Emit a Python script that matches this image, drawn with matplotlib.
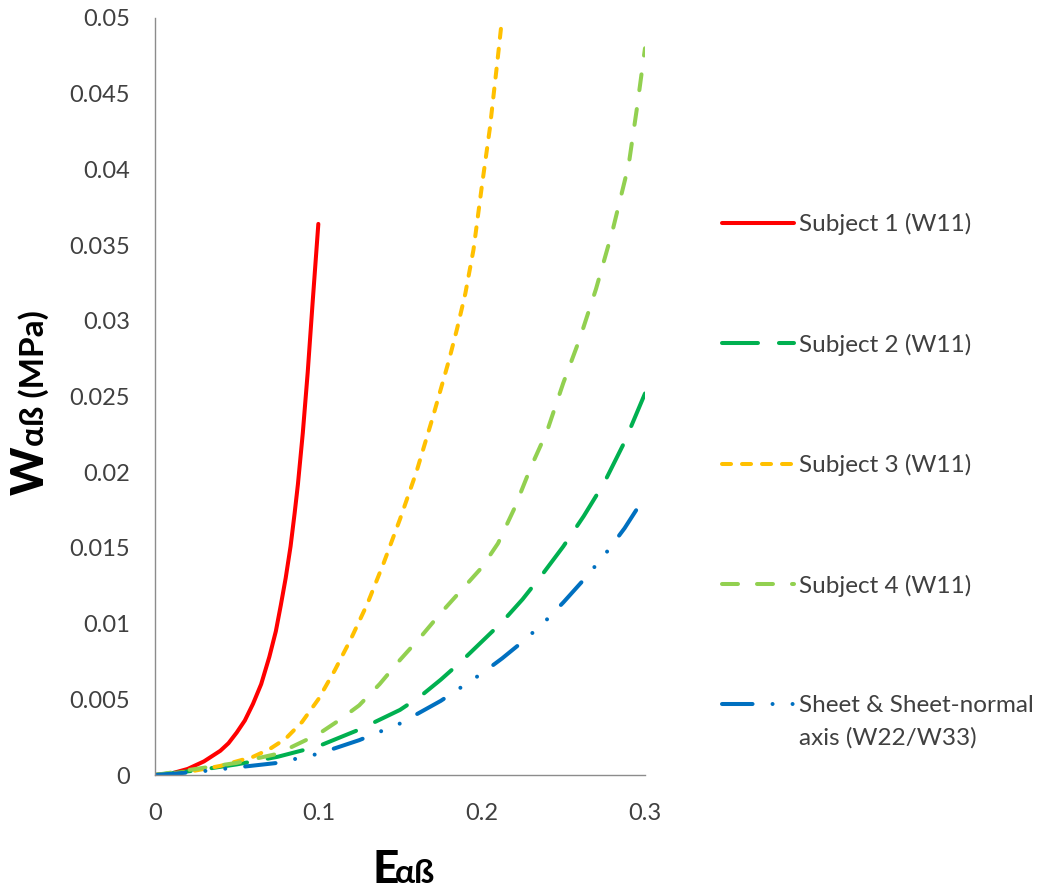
import numpy as np
import matplotlib
matplotlib.use("Agg")
import matplotlib.pyplot as plt
from matplotlib.legend_handler import HandlerLine2D

plt.rcParams['font.family'] = ['Lato', 'DejaVu Sans']
plt.rcParams['lines.scale_dashes'] = False

# strain values (E) and strain energy (W, MPa)
e1 = [0, 0.01, 0.02, 0.03, 0.04, 0.045, 0.05, 0.055, 0.06, 0.065, 0.07, 0.074, 0.077, 0.08,
      0.083, 0.0855, 0.0875, 0.0905, 0.0935, 0.0965, 0.1]
w1 = [0, 0.0001, 0.0004, 0.0009, 0.0016, 0.0021, 0.0028, 0.0036, 0.0047, 0.0060, 0.0078, 0.0095,
      0.0112, 0.0130, 0.0151, 0.0173, 0.0192, 0.0226, 0.0266, 0.0312, 0.0364]

e2 = [0, 0.025, 0.05, 0.075, 0.1, 0.125, 0.15, 0.1625, 0.175, 0.1875, 0.2, 0.2125, 0.225, 0.2375,
      0.25, 0.2625, 0.275, 0.2875, 0.3]
w2 = [0, 0.0003, 0.0007, 0.0012, 0.0019, 0.0030, 0.0043, 0.0052, 0.0063, 0.0075, 0.0088, 0.0101,
      0.0116, 0.0133, 0.0151, 0.0171, 0.0193, 0.0220, 0.0252]

e3 = [0, 0.02, 0.04, 0.06, 0.07, 0.08, 0.09, 0.1, 0.11, 0.12, 0.13, 0.14, 0.15, 0.16, 0.17, 0.18,
      0.185, 0.19, 0.195, 0.2, 0.205, 0.21, 0.2125]
w3 = [0, 0.0002, 0.0006, 0.0012, 0.0017, 0.0024, 0.0035, 0.0050, 0.0069, 0.0090, 0.0113, 0.0140,
      0.0169, 0.0200, 0.0236, 0.0274, 0.0295, 0.0318, 0.0347, 0.0388, 0.0427, 0.0475, 0.0500]

e4 = [0, 0.025, 0.05, 0.075, 0.1, 0.1125, 0.125, 0.1375, 0.15, 0.1625, 0.175, 0.1875, 0.2, 0.21,
      0.22, 0.23, 0.24, 0.25, 0.26, 0.27, 0.28, 0.29, 0.295, 0.3]
w4 = [0, 0.0004, 0.0008, 0.0014, 0.0027, 0.0036, 0.0046, 0.0060, 0.0076, 0.0091, 0.0107, 0.0122,
      0.0137, 0.0153, 0.0176, 0.0203, 0.0227, 0.0259, 0.0288, 0.0321, 0.0359, 0.0403, 0.0440, 0.0480]

e5 = [0, 0.025, 0.05, 0.075, 0.1, 0.125, 0.15, 0.175, 0.1875, 0.2, 0.2125, 0.225, 0.2375, 0.25,
      0.2625, 0.275, 0.2875, 0.3]
w5 = [0, 0.0002, 0.0005, 0.0008, 0.0014, 0.0023, 0.0034, 0.0049, 0.0058, 0.0067, 0.0077, 0.0088,
      0.0100, 0.0114, 0.0129, 0.0145, 0.0163, 0.0184]

labels = ["Subject 1 (W11)", "Subject 2 (W11)", "Subject 3 (W11)", "Subject 4 (W11)",
          "Sheet & Sheet-normal\naxis (W22/W33)"]

xticks = [0, 0.1, 0.2, 0.3]
xticklabels = ["0", "0.1", "0.2", "0.3"]
yticks = [0, 0.005, 0.01, 0.015, 0.02, 0.025, 0.03, 0.035, 0.04, 0.045, 0.05]
yticklabels = ["0", "0.005", "0.01", "0.015", "0.02", "0.025", "0.03", "0.035", "0.04", "0.045", "0.05"]

txt = '#404040'
lw = 2.9


class FirstLineHandler(HandlerLine2D):
    # put the legend line next to the first line of a two-line label
    def __init__(self, shift, **kw):
        super().__init__(**kw)
        self.shift = shift

    def create_artists(self, legend, orig_handle, xdescent, ydescent, width, height, fontsize, trans):
        arts = super().create_artists(legend, orig_handle, xdescent, ydescent, width, height, fontsize, trans)
        for a in arts:
            a.set_ydata(np.asarray(a.get_ydata()) + self.shift)
        return arts


fig = plt.figure(figsize=(10.45, 8.92), dpi=100)
ax = fig.add_axes([155/1045, 1 - 775/892, 490/1045, (775 - 18)/892])

ax.plot(e1, w1, color='#FF0000', lw=lw, solid_capstyle='round', solid_joinstyle='round', label=labels[0])
ax.plot(e2, w2, color='#00B050', lw=lw, dashes=(25.9, 15.1), dash_capstyle='round', label=labels[1])
ax.plot(e3, w3, color='#FFC000', lw=lw, dashes=(6.5, 7.9), dash_capstyle='round', label=labels[2])
ax.plot(e4, w4, color='#92D050', lw=lw, dashes=(11.5, 13.7), dash_capstyle='round', label=labels[3])
sheet, = ax.plot(e5, w5, color='#0070C0', lw=lw, dashes=(22, 14.4, 0.01, 14.4, 0.01, 14.4),
                 dash_capstyle='round', label=labels[4])

ax.set_xlim(0, 0.3)
ax.set_ylim(0, 0.05)
ax.set_xticks(xticks)
ax.set_xticklabels(xticklabels)
ax.set_yticks(yticks)
ax.set_yticklabels(yticklabels)
ax.tick_params(axis='both', length=0, labelsize=17, labelcolor=txt)
ax.tick_params(axis='x', pad=20)
ax.tick_params(axis='y', pad=18)
for s in ['top', 'right']:
    ax.spines[s].set_visible(False)
for s in ['left', 'bottom']:
    ax.spines[s].set_color('#8c8c8c')
    ax.spines[s].set_linewidth(1.0)

leg = ax.legend(loc='upper left', bbox_to_anchor=(722/1045, 1 - 213/892), bbox_transform=fig.transFigure,
                frameon=False, fontsize=17.5, handlelength=2.95, handletextpad=0.2,
                labelspacing=4.05, borderpad=0, borderaxespad=0,
                handler_map={sheet: FirstLineHandler(12.5)})
for t in leg.get_texts():
    t.set_color(txt)
    t.set_linespacing(1.6)

# axis titles built from pieces of different sizes
fig.text(44/1045, 1 - 495/892, "W", rotation=90, rotation_mode='anchor', ha='left', va='baseline',
         fontsize=33, fontweight='black', color='black')
fig.text(44/1045, 1 - 446/892, "\u03b1\u00df (MPa)", rotation=90, rotation_mode='anchor', ha='left',
         va='baseline', fontsize=24, fontweight='bold', color='black')
fig.text(372/1045, 1 - 883/892, "E", ha='left', va='baseline', fontsize=33, fontweight='black', color='black')
fig.text(395/1045, 1 - 883/892, "\u03b1\u00df", ha='left', va='baseline', fontsize=24, fontweight='bold', color='black')

fig.savefig("out.png", dpi=100)
